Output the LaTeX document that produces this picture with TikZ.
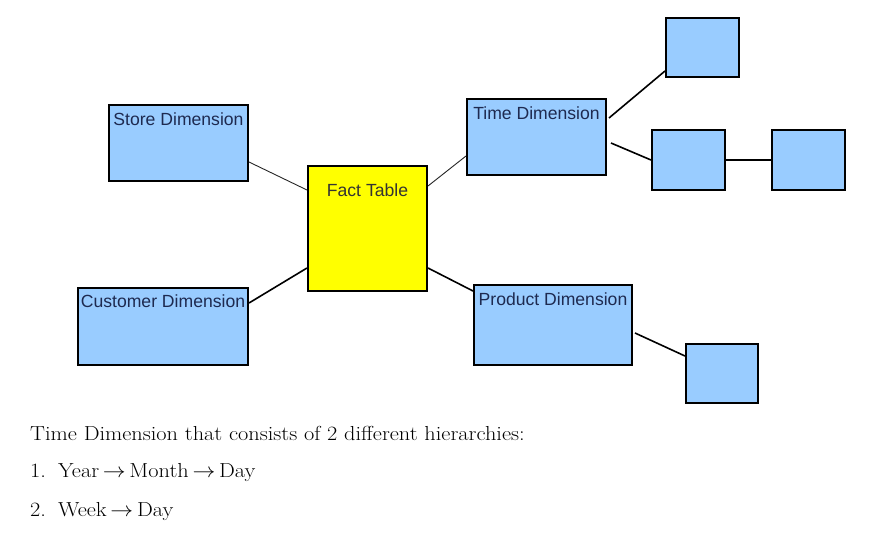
\documentclass[tikz,border=0pt]{standalone}
\usepackage{fontspec}
\newfontfamily\boxfont{Liberation Sans}
\definecolor{dimblue}{HTML}{99CCFF}
\definecolor{facty}{HTML}{FFFF00}
\definecolor{dimtext}{HTML}{1E2A50}
\definecolor{facttext}{HTML}{333333}
\tikzset{
  dimbox/.style={draw=black, line width=2pt, fill=dimblue, inner sep=0pt},
  factbox/.style={draw=black, line width=2pt, fill=facty, inner sep=0pt},
  boxlabel/.style={font=\boxfont\fontsize{17.6}{20}\selectfont, text=dimtext, inner sep=0pt},
  link/.style={draw=black, line width=1.6pt},
  thinlink/.style={draw=black!85, line width=0.9pt},
  note/.style={font=\fontsize{20.3}{24}\selectfont, anchor=base west, inner sep=0pt, xscale=1.1}
}
\newcommand{\hto}{\,$\rightarrow$\,}
\begin{document}
\begin{tikzpicture}[x=1pt,y=-1pt]
\useasboundingbox (0,0) rectangle (873,533);

% fact table
\node[factbox, minimum width=119pt, minimum height=125pt] (fact) at (367.5,228.5) {};
\node[boxlabel, text=facttext, anchor=north] (factlbl) at ([yshift=-19pt]fact.north) {Fact Table};

% dimensions
\node[dimbox, minimum width=139pt, minimum height=76pt] (store) at (178.5,143) {};
\node[boxlabel, anchor=north] (storelbl) at ([yshift=-9pt]store.north) {Store Dimension};

\node[dimbox, minimum width=170pt, minimum height=77pt] (cust) at (163,326.5) {};
\node[boxlabel, anchor=north] (custlbl) at ([yshift=-8pt]cust.north) {Customer Dimension};

\node[dimbox, minimum width=139pt, minimum height=76pt] (time) at (536.5,137) {};
\node[boxlabel, anchor=north] (timelbl) at ([yshift=-9pt]time.north) {Time Dimension};

\node[dimbox, minimum width=158pt, minimum height=80pt] (prod) at (553,325) {};
\node[boxlabel, anchor=north] (prodlbl) at ([yshift=-9pt]prod.north) {Product Dimension};

% hierarchy levels
\node[dimbox, minimum width=73pt, minimum height=59pt] (year) at (702.5,47.5) {};
\node[dimbox, minimum width=73pt, minimum height=60pt] (week) at (688.5,160) {};
\node[dimbox, minimum width=73pt, minimum height=60pt] (day) at (808.5,160) {};
\node[dimbox, minimum width=72pt, minimum height=59pt] (pcat) at (722,373.5) {};

% connectors (yshift is in canvas units: positive moves up)
\draw[thinlink] ([yshift=-19pt]store.east) -- ([yshift=38.5pt]fact.west);
\draw[thinlink] ([yshift=42.5pt]fact.east) -- ([yshift=-19pt]time.west);
\draw[link] ([yshift=-16pt]cust.north east) -- ([yshift=-39.5pt]fact.west);
\draw[link] ([yshift=-39.5pt]fact.east) -- ([yshift=-7pt]prod.north west);
\draw[link] ([xshift=2pt,yshift=19pt]time.east) -- ([yshift=7pt]year.south west);
\draw[link] ([xshift=4pt,yshift=-6pt]time.east) -- (week.west);
\draw[link] (week.east) -- (day.west);
\draw[link] ([xshift=2pt,yshift=-8pt]prod.east) -- ([yshift=-13pt]pcat.north west);

% notes
\node[note] (n0) at (30,440) {Time Dimension that consists of 2 different hierarchies:};
\node[note] (n1) at (30,477) {1.};
\node[note] (n1t) at (58,477) {Year\hto Month\hto Day};
\node[note] (n2) at (30,516) {2.};
\node[note] (n2t) at (58,516) {Week\hto Day};
\end{tikzpicture}
\end{document}
